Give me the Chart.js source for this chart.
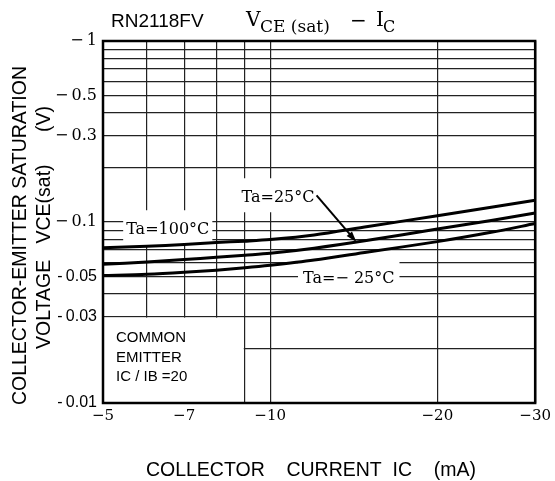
<!DOCTYPE html>
<html>
<head>
<meta charset="utf-8">
<script src="https://cdn.jsdelivr.net/npm/chart.js@4.4.0/dist/chart.umd.min.js"></script>
<style>
  html, body { margin: 0; padding: 0; background: #fff; }
</style>
</head>
<body>
<canvas id="vceChart" width="555" height="481"></canvas>
<script>
// collector current IC (mA)
const icValues = [-5, -6, -7, -8, -9, -10, -12, -15, -20, -25, -30]
// VCE(sat) (V) at each ambient temperature
const vce100 = [-0.0720, -0.0734, -0.0751, -0.0770, -0.0784, -0.0800, -0.0848, -0.0945, -0.1082, -0.1206, -0.1318]
const vce25 = [-0.0584, -0.0601, -0.0620, -0.0638, -0.0655, -0.0671, -0.0716, -0.0792, -0.0915, -0.1018, -0.1121]
const vceMinus25 = [-0.0506, -0.0514, -0.0527, -0.0542, -0.0558, -0.0576, -0.0616, -0.0683, -0.0779, -0.0877, -0.0980]

// grid lines and labelled ticks
const xGrid = [-5, -6, -7, -8, -9, -10, -20, -30]
const xLabels = [-5, -7, -10, -20, -30]
const yGrid = [-1, -0.9, -0.8, -0.7, -0.6, -0.5, -0.4, -0.3, -0.2,
               -0.1, -0.09, -0.08, -0.07, -0.06, -0.05, -0.04, -0.03, -0.02, -0.01]
const yLabels = [-1, -0.5, -0.3, -0.1, -0.05, -0.03, -0.01]

const SERIF = "'DejaVu Serif', serif"
const SANS = "'Liberation Sans', Arial, sans-serif"

const toPoints = (vals) => icValues.map((ic, i) => ({x: Math.abs(ic), y: Math.abs(vals[i])}))

const curve = (label, vals) => ({
    label: label,
    data: toPoints(vals),
    borderColor: '#000',
    borderWidth: 3,
    pointRadius: 0,
    fill: false,
    tension: 0.3
})

// text labels sitting on the grid, each one blanks the grid behind it
const tempLabels = [
    {text: 'Ta=100°C', ic: 6.54, v: 0.0912, pad: [3, 19, 3, 16]},
    {text: 'Ta=25°C', ic: 10.33, v: 0.137, pad: [5, 19, 5, 15]},
    {text: 'Ta=\u2212 25°C', ic: 13.85, v: 0.0492, pad: [5, 19, 5, 12]}
]

const isSmall = (c) => c.tick && c.tick.value < 0.09

const notes = {
    id: 'notes',
    beforeDatasetsDraw(chart) {
        const {ctx, chartArea: a, scales: {x, y}} = chart
        ctx.save()
        ctx.fillStyle = '#fff'
        // common emitter box
        const bx = x.getPixelForValue(9)
        const by = y.getPixelForValue(0.03)
        ctx.fillRect(a.left + 1, by + 1, bx - a.left - 2, a.bottom - by - 2)

        ctx.font = '16px ' + SERIF
        ctx.textBaseline = 'middle'
        ctx.textAlign = 'center'
        tempLabels.forEach(l => {
            const cx = x.getPixelForValue(l.ic)
            const cy = y.getPixelForValue(l.v)
            const w = ctx.measureText(l.text).width
            ctx.fillStyle = '#fff'
            ctx.fillRect(cx - w / 2 - l.pad[0], cy - l.pad[1], w + l.pad[0] + l.pad[2], l.pad[1] + l.pad[3])
            ctx.fillStyle = '#000'
            ctx.fillText(l.text, cx, cy + 1)
        })

        ctx.font = '15px ' + SANS
        ctx.textAlign = 'left'
        ctx.textBaseline = 'alphabetic'
        ctx.fillText('COMMON', a.left + 13, by + 25)
        ctx.fillText('EMITTER', a.left + 13, by + 45)
        ctx.fillText('IC / IB =20', a.left + 13, by + 64)
        ctx.restore()
    },
    afterDatasetsDraw(chart) {
        const {ctx, chartArea: a, scales: {x, y}} = chart
        ctx.save()
        // frame
        ctx.strokeStyle = '#000'
        ctx.lineWidth = 2.5
        ctx.strokeRect(a.left, a.top, a.right - a.left, a.bottom - a.top)

        // arrow pointing at the 25°C curve
        const x0 = x.getPixelForValue(12.12), y0 = y.getPixelForValue(0.1404)
        const x1 = x.getPixelForValue(14.3), y1 = y.getPixelForValue(0.0775)
        const ang = Math.atan2(y1 - y0, x1 - x0)
        ctx.lineWidth = 2
        ctx.beginPath()
        ctx.moveTo(x0, y0)
        ctx.lineTo(x1 - 8 * Math.cos(ang), y1 - 8 * Math.sin(ang))
        ctx.stroke()
        ctx.beginPath()
        ctx.moveTo(x1, y1)
        ctx.lineTo(x1 - 11 * Math.cos(ang) + 3.5 * Math.sin(ang), y1 - 11 * Math.sin(ang) - 3.5 * Math.cos(ang))
        ctx.lineTo(x1 - 11 * Math.cos(ang) - 3.5 * Math.sin(ang), y1 - 11 * Math.sin(ang) + 3.5 * Math.cos(ang))
        ctx.closePath()
        ctx.fillStyle = '#000'
        ctx.fill()

        // heading
        ctx.fillStyle = '#000'
        ctx.textAlign = 'left'
        ctx.textBaseline = 'alphabetic'
        ctx.font = '19px ' + SANS
        ctx.fillText('RN2118FV', 111, 27)
        ctx.font = '20px ' + SERIF
        ctx.fillText('V', 246, 26)
        ctx.font = '17px ' + SERIF
        ctx.fillText('CE (sat)', 260, 32)
        ctx.font = '20px ' + SERIF
        ctx.fillText('\u2212', 350, 27)
        ctx.fillText('I', 376, 26)
        ctx.font = '16px ' + SERIF
        ctx.fillText('C', 383, 32)
        ctx.restore()
    }
}

new Chart(document.getElementById('vceChart'), {
    type: 'line',
    data: {
        datasets: [
            curve('Ta = 100°C', vce100),
            curve('Ta = 25°C', vce25),
            curve('Ta = -25°C', vceMinus25)
        ]
    },
    options: {
        responsive: false,
        animation: false,
        devicePixelRatio: 1,
        layout: {padding: {top: 41, right: 15, left: 0, bottom: 0}},
        plugins: {legend: {display: false}, tooltip: {enabled: false}},
        scales: {
            x: {
                type: 'logarithmic',
                min: 5,
                max: 30,
                afterFit: (scale) => { scale.height = 78 },
                afterBuildTicks: (scale) => { scale.ticks = xGrid.map(v => ({value: Math.abs(v)})) },
                grid: {color: '#222', lineWidth: 1.2, drawTicks: false},
                border: {display: false},
                ticks: {
                    autoSkip: false,
                    maxRotation: 0,
                    padding: 4,
                    color: '#000',
                    font: {family: SERIF, size: 15},
                    callback: (v) => xLabels.includes(-v) ? '\u2212' + v : ''
                },
                title: {
                    display: true,
                    text: 'COLLECTOR    CURRENT  IC    (mA)   ',
                    color: '#000',
                    font: {family: SANS, size: 19.5, lineHeight: 1.1},
                    padding: {top: 0, bottom: 0}
                }
            },
            y: {
                type: 'logarithmic',
                min: 0.01,
                max: 1,
                afterFit: (scale) => { scale.width = 103 },
                afterBuildTicks: (scale) => { scale.ticks = yGrid.map(v => ({value: Math.abs(v)})) },
                grid: {color: '#222', lineWidth: 1.2, drawTicks: false},
                border: {display: false},
                ticks: {
                    autoSkip: false,
                    padding: 6,
                    color: '#000',
                    font: {
                        family: (c) => isSmall(c) ? SANS : SERIF,
                        size: 16
                    },
                    callback: (v) => {
                        if (!yLabels.includes(-v)) return ''
                        return v >= 0.1 ? '\u2212\u2009' + v : '-\u2009' + v
                    }
                },
                title: {
                    display: true,
                    text: ['COLLECTOR-EMITTER SATURATION     ', 'VOLTAGE   VCE(sat)      (V)  '],
                    color: '#000',
                    font: {family: SANS, size: 19.5, lineHeight: 1.23},
                    padding: {top: 9, bottom: 0}
                }
            }
        }
    },
    plugins: [notes]
})
</script>
</body>
</html>
